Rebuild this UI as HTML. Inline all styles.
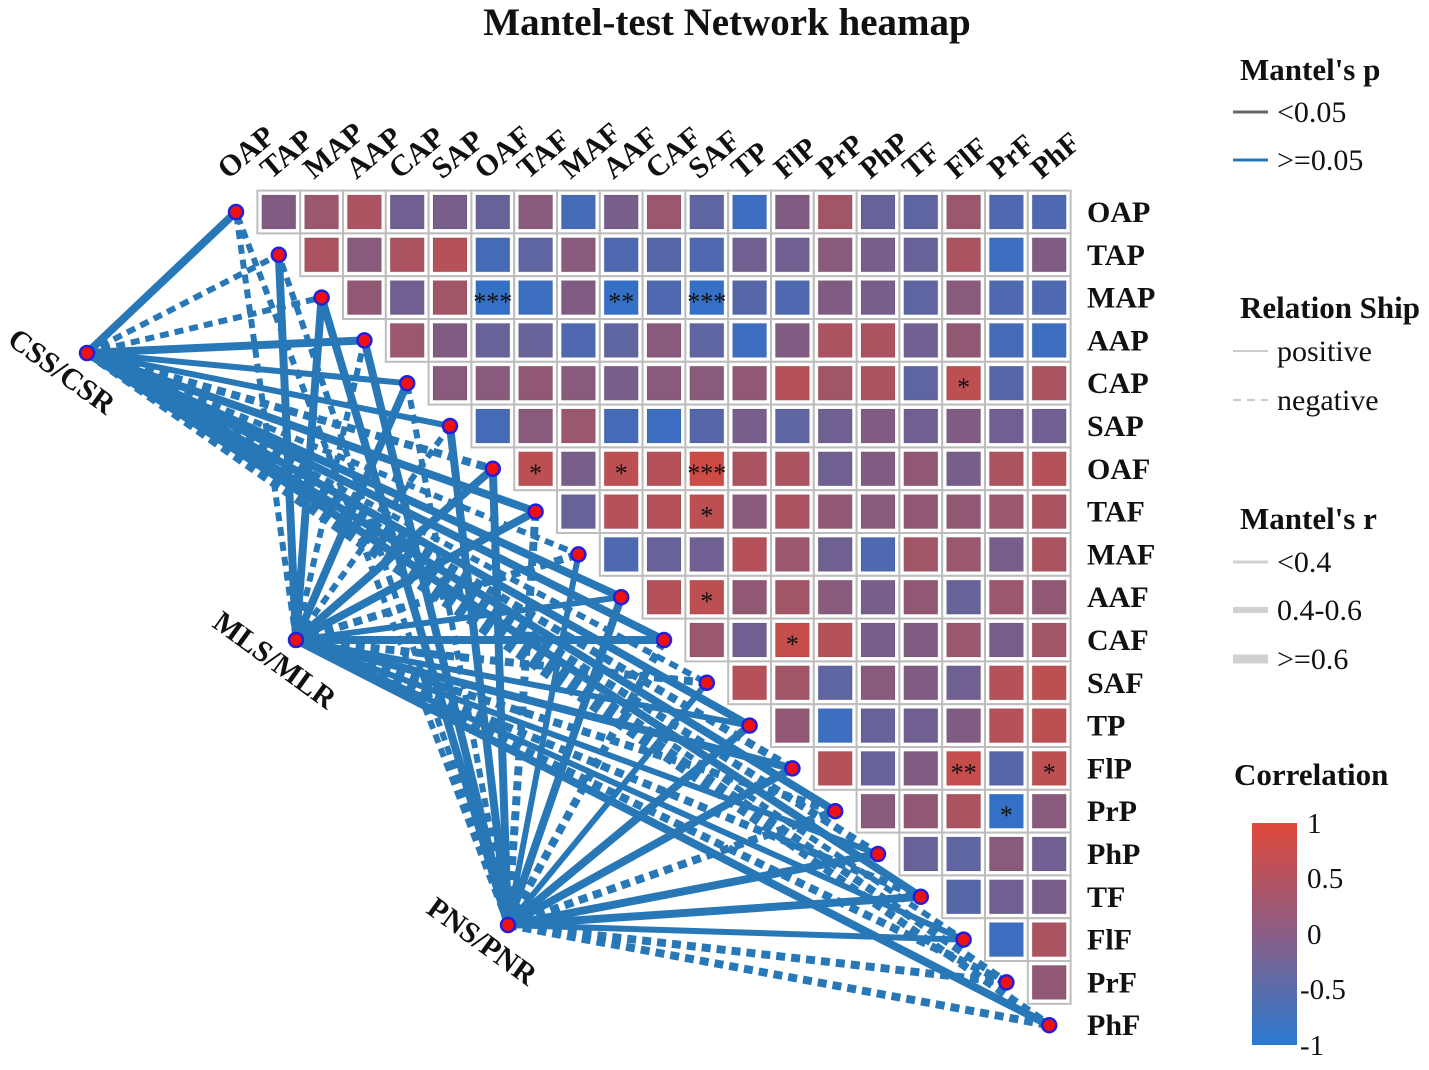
<!DOCTYPE html>
<html><head><meta charset="utf-8"><style>
body{margin:0;background:#fff}
svg text{font-family:"Liberation Serif",serif;font-weight:bold;fill:#111}
</style></head><body>
<svg id="chart" width="1429" height="1065" viewBox="0 0 1429 1065" xmlns="http://www.w3.org/2000/svg">
<text x="727" y="35" font-size="39" text-anchor="middle">Mantel-test Network heamap</text>
<g id="cells"></g>
<g id="lines"></g>
<g id="nodes"></g>
<g id="labels"></g>
<g>
<text x="1240" y="80" font-size="31">Mantel's p</text>
<line x1="1233" y1="112" x2="1268" y2="112" stroke="#666" stroke-width="3"/>
<text x="1277" y="122" font-size="30" style="font-weight:normal">&lt;0.05</text>
<line x1="1233" y1="160" x2="1268" y2="160" stroke="#2878b8" stroke-width="3"/>
<text x="1277" y="170" font-size="30" style="font-weight:normal">&gt;=0.05</text>
<text x="1240" y="318" font-size="31">Relation Ship</text>
<line x1="1233" y1="351" x2="1268" y2="351" stroke="#ccc" stroke-width="2"/>
<text x="1277" y="361" font-size="30" style="font-weight:normal">positive</text>
<line x1="1233" y1="400" x2="1268" y2="400" stroke="#ccc" stroke-width="2" stroke-dasharray="8 6"/>
<text x="1277" y="410" font-size="30" style="font-weight:normal">negative</text>
<text x="1240" y="529" font-size="31">Mantel's r</text>
<line x1="1233" y1="562" x2="1268" y2="562" stroke="#d0d0d0" stroke-width="3"/>
<text x="1277" y="572" font-size="30" style="font-weight:normal">&lt;0.4</text>
<line x1="1233" y1="610" x2="1268" y2="610" stroke="#d0d0d0" stroke-width="6"/>
<text x="1277" y="620" font-size="30" style="font-weight:normal">0.4-0.6</text>
<line x1="1233" y1="659" x2="1268" y2="659" stroke="#d0d0d0" stroke-width="9"/>
<text x="1277" y="669" font-size="30" style="font-weight:normal">&gt;=0.6</text>
<text x="1234" y="785" font-size="31">Correlation</text>
<defs><linearGradient id="cg" x1="0" y1="1" x2="0" y2="0">
<stop offset="0" stop-color="#2a7ad0"/><stop offset="0.5" stop-color="#8a5e86"/><stop offset="1" stop-color="#e0483a"/></linearGradient></defs>
<rect x="1252" y="823" width="45" height="222" fill="url(#cg)"/>
<g font-size="29">
<text x="1307" y="833" style="font-weight:normal">1</text>
<text x="1307" y="888" style="font-weight:normal">0.5</text>
<text x="1307" y="944" style="font-weight:normal">0</text>
<text x="1300" y="999" style="font-weight:normal">-0.5</text>
<text x="1300" y="1055" style="font-weight:normal">-1</text>
</g>
</g>
</svg>
<script>
const vars=["OAP","TAP","MAP","AAP","CAP","SAP","OAF","TAF","MAF","AAF","CAF","SAF","TP","FlP","PrP","PhP","TF","FlF","PrF","PhF"];
const corr=[
[0,0.3,0.5,-0.2,-0.1,-0.3,0.1,-0.7,-0.1,0.3,-0.4,-0.8,0,0.4,-0.3,-0.4,0.3,-0.6,-0.6],
[0.5,0.1,0.5,0.6,-0.7,-0.4,0.1,-0.6,-0.5,-0.6,-0.2,-0.2,0.1,-0.1,-0.3,0.5,-0.8,0],
[0.2,-0.2,0.4,-0.9,-0.8,0,-0.9,-0.6,-0.9,-0.5,-0.6,0,-0.1,-0.4,0.1,-0.6,-0.6],
[0.3,0,-0.3,-0.3,-0.6,-0.4,0.1,-0.4,-0.8,0,0.5,0.5,-0.2,0.2,-0.7,-0.8],
[0.1,0.1,0.2,0.1,-0.1,0.1,0.1,0.2,0.6,0.4,0.5,-0.4,0.7,-0.5,0.5],
[-0.7,0.1,0.3,-0.7,-0.8,-0.5,-0.1,-0.4,-0.2,0,-0.2,0,-0.2,-0.2],
[0.7,-0.1,0.7,0.6,0.9,0.5,0.5,-0.2,0,0.2,-0.1,0.5,0.6],
[-0.3,0.6,0.6,0.7,0.1,0.5,0.2,0.1,0.2,0.2,0.3,0.5],
[-0.6,-0.3,-0.2,0.6,0.3,-0.2,-0.6,0.4,0.3,-0.1,0.5],
[0.6,0.7,0.2,0.4,0.1,-0.1,0.2,-0.3,0.3,0.2],
[0.3,-0.2,0.8,0.6,-0.1,0,0.3,-0.1,0.4],
[0.6,0.4,-0.4,0.1,0,-0.2,0.6,0.7],
[0.2,-0.8,-0.3,-0.2,0,0.6,0.7],
[0.6,-0.3,0,0.8,-0.5,0.7],
[0.1,0.2,0.5,-0.9,0.1],
[-0.3,-0.4,0.1,-0.2],
[-0.5,-0.2,-0.1],
[-0.8,0.5],
[0.2]];
const stars=[["MAP","OAF","***"],["MAP","AAF","**"],["MAP","SAF","***"],["CAP","FlF","*"],["OAF","TAF","*"],["OAF","AAF","*"],["OAF","SAF","***"],["TAF","SAF","*"],["AAF","SAF","*"],["CAF","FlP","*"],["FlP","FlF","**"],["FlP","PhF","*"],["PrP","PrF","*"]];
const sources=["CSS/CSR","MLS/MLR","PNS/PNR"];
const mantelR=[
[2,1,1,2,1,1,2,2,1,2,2,1,2,2,2,2,2,1,2,2],
[1,2,2,1,2,1,2,2,2,1,2,2,1,2,2,1,2,1,2,2],
[1,1,2,2,1,2,2,2,1,2,2,1,2,2,2,2,2,1,2,2]];
const relation=[
[1,0,0,1,1,1,0,1,0,1,1,0,1,0,1,0,1,0,0,0],
[0,1,1,0,1,0,1,1,0,1,1,0,1,1,0,1,0,1,0,1],
[0,0,1,1,0,1,1,0,1,1,0,1,1,1,0,1,1,1,0,0]];
const srcPos=[[87,353],[296,640],[508,925]];
const x0=236,y0=212,st=42.8;
const sx=j=>x0+j*st, sy=i=>y0+i*st;
function lerp(a,b,t){return a.map((v,k)=>Math.round(v+(b[k]-v)*t));}
function col(v){const B=[44,114,206],M=[128,92,130],R=[214,74,62];
 const c=v<0?lerp(M,B,-v):lerp(M,R,v);return `rgb(${c.join(',')})`;}
const NS="http://www.w3.org/2000/svg";
function mk(t,a,p){const e=document.createElementNS(NS,t);for(const k in a)e.setAttribute(k,a[k]);p.appendChild(e);return e;}
const cells=document.getElementById('cells');
corr.forEach((row,i)=>row.forEach((v,k)=>{const j=i+1+k;
 const g=mk('g',{},cells);
 
 
 mk('rect',{x:sx(j)-st/2,y:sy(i)-st/2,width:st,height:st,fill:'#fff',stroke:'#bdbdbd','stroke-width':2},g);
 mk('rect',{x:sx(j)-17,y:sy(i)-17,width:34,height:34,fill:col(v),stroke:'rgba(0,0,0,0.08)'},g);
}));
stars.forEach(s=>{const i=vars.indexOf(s[0]),j=vars.indexOf(s[1]);
 const t=mk('text',{x:sx(j),y:sy(i)+13,'font-size':26,'text-anchor':'middle'},cells);
 
 
 t.style.fontWeight='normal';t.textContent=s[2];});
const lines=document.getElementById('lines');
const widths=[4,6,8];
sources.forEach((s,si)=>vars.forEach((v,j)=>{
 const l=mk('line',{x1:srcPos[si][0],y1:srcPos[si][1],x2:sx(j),y2:sy(j),stroke:'#2878b8','stroke-width':widths[mantelR[si][j]]},lines);
 if(!relation[si][j])l.setAttribute('stroke-dasharray','9 6');
 
 
}));
const nodes=document.getElementById('nodes');
vars.forEach((v,j)=>{const c=mk('circle',{cx:sx(j),cy:sy(j),r:7,fill:'#f01010',stroke:'#2020e0','stroke-width':2.5},nodes);
 
 });
srcPos.forEach(p=>{const c=mk('circle',{cx:p[0],cy:p[1],r:7,fill:'#f01010',stroke:'#2020e0','stroke-width':2.5},nodes);
 
 });
const lab=document.getElementById('labels');
vars.forEach((v,i)=>{
 const t=mk('text',{x:1087,y:sy(i)+10,'font-size':30},lab);t.textContent=v;
 
 
 const c=mk('text',{x:0,y:0,'font-size':30,transform:`translate(${sx(i)-8},180) rotate(-40)`},lab);c.textContent=v;
 
 
});
const srcLab=[[6,343],[211,626],[425,912]];
sources.forEach((s,i)=>{const t=mk('text',{x:0,y:0,'font-size':30,transform:`translate(${srcLab[i][0]},${srcLab[i][1]}) rotate(36)`},lab);
 t.textContent=s;
 
 });
</script>
</body></html>
